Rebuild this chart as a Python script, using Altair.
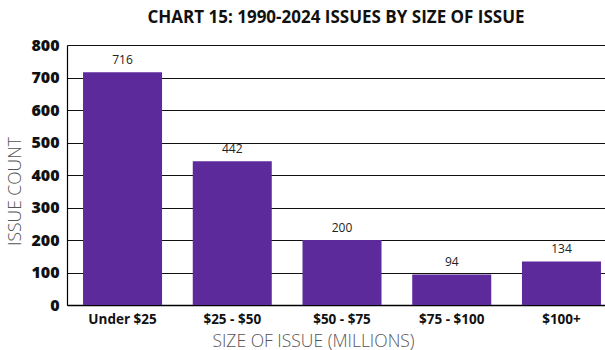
import altair as alt
import pandas as pd

categories = ["Under $25", "$25 - $50", "$50 - $75", "$75 - $100", "$100+"]
counts = [716, 442, 200, 94, 134]
y_ticks = [0, 100, 200, 300, 400, 500, 600, 700, 800]

df = pd.DataFrame({"size": categories, "count": counts})

FONT = "Open Sans"
PURPLE = "#5d2a9c"

base = alt.Chart(df).encode(
    x=alt.X(
        "size:N",
        sort=categories,
        scale=alt.Scale(paddingInner=0.28, paddingOuter=0.146, range=[0, 550]),
        axis=alt.Axis(
            title="SIZE OF ISSUE (MILLIONS)",
            labelAngle=0,
            labelFont=FONT,
            labelFontSize=13.5,
            labelFontWeight="bold",
            labelColor="#111111",
            labelPadding=7,
            ticks=False,
            domainColor="#000000",
            domainWidth=1.5,
            titleFont=FONT,
            titleFontSize=17.5,
            titleFontWeight=300,
            titleColor="#555555",
            titleX=246,
            titleY=36,
            titleAlign="center",
            titleBaseline="middle",
        ),
    ),
    y=alt.Y(
        "count:Q",
        scale=alt.Scale(domain=[0, 800], nice=False),
        axis=alt.Axis(
            title="ISSUE COUNT",
            values=y_ticks,
            labelFont=FONT,
            labelFontSize=16,
            labelFontWeight=800,
            labelColor="#111111",
            labelPadding=8,
            ticks=False,
            domainColor="#000000",
            domainWidth=1.2,
            grid=True,
            gridColor="#111111",
            gridWidth=1.2,
            titleFont=FONT,
            titleFontSize=17.5,
            titleFontWeight=300,
            titleColor="#555555",
            titleX=-52,
            titleY=146,
            titleAlign="center",
            titleBaseline="middle",
        ),
    ),
)

bars = base.mark_bar(color=PURPLE)
labels = base.mark_text(
    dy=-5, baseline="bottom", font=FONT, fontSize=12, color="#222222"
).encode(text="count:Q")

chart = (
    (bars + labels)
    .properties(
        width=538,
        height=260,
        title=alt.TitleParams(
            "CHART 15: 1990-2024 ISSUES BY SIZE OF ISSUE",
            font=FONT,
            fontSize=17,
            fontWeight="bold",
            color="#111111",
            anchor="middle",
            offset=10,
        ),
        autosize=alt.AutoSizeParams(type="none"),
        padding={"left": 67, "top": 45, "right": 0, "bottom": 45},
    )
    .configure_view(stroke=None)
    .configure(background="white")
)

chart.save("out.html", embed_options={"renderer": "svg", "actions": False})
